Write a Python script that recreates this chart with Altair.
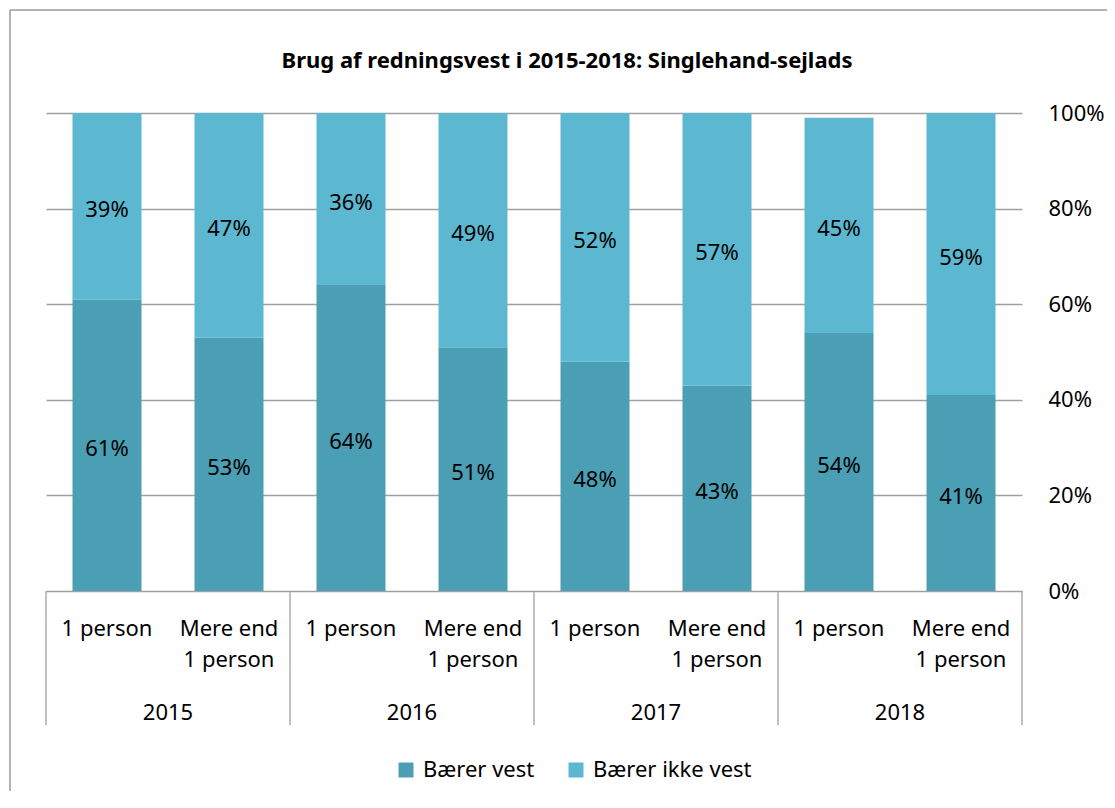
import altair as alt
import pandas as pd

categories = ["1 person", "Mere end\n1 person"] * 4
years = ["2015", "2015", "2016", "2016", "2017", "2017", "2018", "2018"]
baerer_vest = [61, 53, 64, 51, 48, 43, 54, 41]
baerer_ikke_vest = [39, 47, 36, 49, 52, 57, 45, 59]
series = ["Bærer vest", "Bærer ikke vest"]
year_labels = ["2015", "2016", "2017", "2018"]
title_text = "Brug af redningsvest i 2015-2018: Singlehand-sejlads"
y_ticks = [0, 20, 40, 60, 80, 100]
colors = ["#4A9FB4", "#5CB8D0"]

FONT = "Noto Sans"
GRID = "#a0a0a0"

rows = []
for i, (c, y, a, b) in enumerate(zip(categories, years, baerer_vest, baerer_ikke_vest)):
    rows.append(dict(idx=i, cat=c, year=y, series=series[0], ord=0, value=a))
    rows.append(dict(idx=i, cat=c, year=y, series=series[1], ord=1, value=b))
df = pd.DataFrame(rows)

cat_df = pd.DataFrame({"idx": list(range(len(categories))), "cat": categories})
year_df = pd.DataFrame({"pos": [2 * g + 0.5 for g in range(len(year_labels))], "year": year_labels})
sep_df = pd.DataFrame({"pos": [2 * g - 0.5 for g in range(len(year_labels) + 1)]})
title_df = pd.DataFrame({"t": [title_text]})

W, H = 976, 478
xscale = alt.Scale(domain=[-0.5, len(categories) - 0.5], nice=False, zero=False, padding=0)
yscale = alt.Scale(domain=[0, 100], nice=False)
yaxis = alt.Axis(orient="right", values=y_ticks, labelExpr="datum.value + '%'",
                 grid=True, gridColor=GRID, gridWidth=1.3, domain=False, ticks=False,
                 labelPadding=26, labelFontSize=22, labelFont=FONT, labelColor="black",
                 title=None)

base = alt.Chart(df).transform_stack(
    stack="value", as_=["lo", "hi"], groupby=["idx"],
    sort=[alt.SortField("ord", order="ascending")]
).transform_calculate(
    mid="(datum.lo + datum.hi) / 2", lbl="datum.value + '%'"
)

bars = base.mark_bar(size=69).encode(
    x=alt.X("idx:Q", scale=xscale, axis=None),
    y=alt.Y("lo:Q", scale=yscale, axis=yaxis),
    y2="hi:Q",
    color=alt.Color("series:N", scale=alt.Scale(domain=series, range=colors),
                    legend=alt.Legend(orient="none", legendX=349, legendY=646, direction="horizontal",
                                      symbolType="square", symbolSize=225, symbolStrokeWidth=0,
                                      labelFontSize=22, labelFont=FONT, labelColor="black",
                                      title=None, columnPadding=30, labelOffset=6, padding=0)),
    order=alt.Order("ord:Q"),
)

labels = base.mark_text(fontSize=22, font=FONT, color="black", dy=4).encode(
    x=alt.X("idx:Q", scale=xscale, axis=None),
    y=alt.Y("mid:Q", scale=yscale, axis=yaxis),
    text="lbl:N",
)

cat_text = alt.Chart(cat_df).mark_text(fontSize=22, font=FONT, color="black", lineBreak="\n",
                                       baseline="top", lineHeight=31).encode(
    x=alt.X("idx:Q", scale=xscale, axis=None),
    y=alt.value(506),
    text="cat:N",
)

year_text = alt.Chart(year_df).mark_text(fontSize=22, font=FONT, color="black", baseline="middle").encode(
    x=alt.X("pos:Q", scale=xscale, axis=None),
    y=alt.value(600),
    text="year:N",
)

seps = alt.Chart(sep_df).mark_rule(color=GRID, strokeWidth=1.3).encode(
    x=alt.X("pos:Q", scale=xscale, axis=None),
    y=alt.value(H),
    y2=alt.value(612),
)

title = alt.Chart(title_df).mark_text(fontSize=22, font=FONT, fontWeight="bold", color="black",
                                      baseline="middle").encode(
    x=alt.value(521), y=alt.value(-52), text="t:N"
)

frame_h = alt.Chart(title_df).mark_rule(color="#9a9a9a", strokeWidth=1.5).encode(
    x=alt.value(-36), x2=alt.value(1100), y=alt.value(-103)
)
frame_v = alt.Chart(title_df).mark_rule(color="#9a9a9a", strokeWidth=1.5).encode(
    x=alt.value(-36), y=alt.value(-103), y2=alt.value(800)
)

chart = alt.layer(frame_h, frame_v, seps, bars, labels, cat_text, year_text, title).properties(
    width=W, height=H,
    autosize=alt.AutoSizeParams(type="none"),
    padding={"left": 38, "top": 105, "right": 85, "bottom": 200},
).configure(font=FONT).configure_view(stroke=None)

chart.save("out.html", embed_options={"renderer": "svg", "actions": False})
